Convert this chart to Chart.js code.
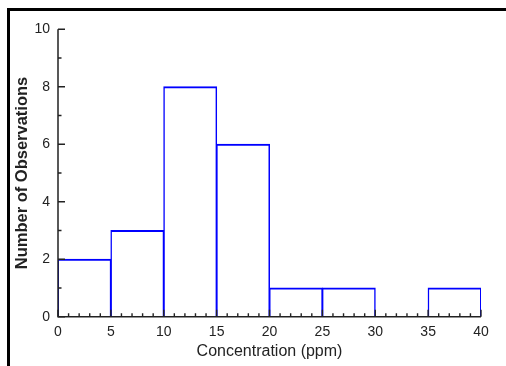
<!DOCTYPE html>
<html>
<head>
<meta charset="utf-8">
<script src="https://cdn.jsdelivr.net/npm/chart.js@4"></script>
<style>
  html, body { margin: 0; padding: 0; background: #fff; }
  #wrap { width: 506px; height: 366px; position: relative; }
</style>
</head>
<body>
<div id="wrap"><canvas id="c" width="506" height="366"></canvas></div>
<script>
// Histogram bins (ppm) and counts
const binEdges = [0, 5, 10, 15, 20, 25, 30, 35, 40];
const counts = [2, 3, 8, 6, 1, 1, 0, 1];
const xTickValues = [0, 5, 10, 15, 20, 25, 30, 35, 40];
const yTickValues = [0, 2, 4, 6, 8, 10];
const xTitle = 'Concentration (ppm)';
const yTitle = 'Number of Observations';

const barData = counts.map((c, i) => ({ x: (binEdges[i] + binEdges[i + 1]) / 2, y: c }));

const AXIS_COLOR = '#222';

const framePlugin = {
  id: 'frame',
  beforeDraw(chart) {
    const ctx = chart.ctx;
    ctx.save();
    ctx.fillStyle = '#000';
    ctx.fillRect(7, 8, 499, 3);
    ctx.fillRect(7, 8, 3, 358);
    ctx.restore();
  },
  afterDatasetsDraw(chart) {
    const ctx = chart.ctx;
    const xs = chart.scales.x, ys = chart.scales.y;
    const left = xs.getPixelForValue(xs.min), right = xs.getPixelForValue(xs.max);
    const bottom = ys.getPixelForValue(ys.min), top = ys.getPixelForValue(ys.max);
    ctx.save();
    ctx.strokeStyle = AXIS_COLOR;
    ctx.lineWidth = 1.5;
    ctx.beginPath();
    ctx.moveTo(left, top);
    ctx.lineTo(left, bottom);
    ctx.lineTo(right, bottom);
    ctx.stroke();
    // inward ticks, minor every unit on x, every unit on y
    ctx.lineWidth = 1.4;
    ctx.beginPath();
    for (let v = xs.min; v <= xs.max; v += 1) {
      const p = xs.getPixelForValue(v);
      const len = (v % 5 === 0) ? 7 : 3.5;
      ctx.moveTo(p, bottom);
      ctx.lineTo(p, bottom - len);
    }
    for (let v = ys.min; v <= ys.max; v += 1) {
      const p = ys.getPixelForValue(v);
      const len = (v % 2 === 0) ? 7 : 3.5;
      ctx.moveTo(left, p);
      ctx.lineTo(left + len, p);
    }
    ctx.stroke();
    ctx.restore();
  }
};

new Chart(document.getElementById('c'), {
  type: 'bar',
  data: {
    datasets: [{
      data: barData,
      backgroundColor: 'rgba(0,0,0,0)',
      borderColor: '#0000ff',
      borderWidth: { top: 1, left: 0.5, right: 0.5, bottom: 0 },
      borderSkipped: 'bottom',
      inflateAmount: 0.5,
      barPercentage: 1,
      categoryPercentage: 1
    }]
  },
  options: {
    responsive: false,
    animation: false,
    layout: { padding: { top: 29.3, right: 25, left: 0, bottom: 0 } },
    plugins: { legend: { display: false }, tooltip: { enabled: false } },
    scales: {
      x: {
        type: 'linear',
        offset: false,
        min: 0, max: 40,
        afterFit(s) { s.height = 49.3; },
        afterBuildTicks(s) { s.ticks = xTickValues.map(v => ({ value: v })); },
        grid: { display: false, drawTicks: false, offset: false },
        border: { display: false },
        ticks: { padding: 7, color: AXIS_COLOR, font: { family: 'Liberation Sans, Arial, sans-serif', size: 14 } },
        title: { display: true, text: xTitle, color: AXIS_COLOR, padding: { top: 0, bottom: 5 },
                 font: { family: 'Liberation Sans, Arial, sans-serif', size: 16 } }
      },
      y: {
        min: 0, max: 10,
        afterFit(s) { s.width = 58; },
        afterBuildTicks(s) { s.ticks = yTickValues.map(v => ({ value: v })); },
        grid: { display: false, drawTicks: false },
        border: { display: false },
        ticks: { padding: 8, color: AXIS_COLOR, font: { family: 'Liberation Sans, Arial, sans-serif', size: 14 } },
        title: { display: true, text: yTitle, color: AXIS_COLOR, padding: { top: 13, bottom: 0 },
                 font: { family: 'Liberation Sans, Arial, sans-serif', size: 16.5, weight: 'bold' } }
      }
    }
  },
  plugins: [framePlugin]
});
</script>
</body>
</html>
